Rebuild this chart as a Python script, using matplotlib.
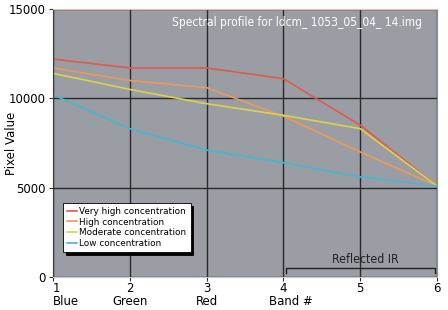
import matplotlib
matplotlib.use('Agg')
from matplotlib import pyplot as plt

bands = [1, 2, 3, 4, 5, 6]
band_labels = ['1\nBlue', '2\nGreen', '3\nRed', '4', '5', '6']
very_high = [12200, 11700, 11700, 11100, 8500, 5100]
high = [11700, 11000, 10600, 9000, 7000, 5100]
moderate = [11400, 10500, 9700, 9050, 8300, 5100]
low = [10200, 8300, 7100, 6400, 5600, 5100]
series_names = ['Very high concentration', 'High concentration',
                'Moderate concentration', 'Low concentration']
line_colors = ['#de5a4c', '#eb9a58', '#dcd24c', '#44b8d2']

txt = dict(family='DejaVu Sans', stretch='condensed', fontsize=9.4)

fig = plt.figure(figsize=(4.48, 3.10), dpi=100)
ax = fig.add_axes([53 / 448, 1 - 277 / 310, 384 / 448, 268 / 310])
ax.set_facecolor('#9b9da4')

for vals, name, c in zip([very_high, high, moderate, low], series_names, line_colors):
    ax.plot(bands, vals, color=c, linewidth=1.2, label=name)

ax.set_xlim(1, 6)
ax.set_ylim(0, 15000)
ax.set_yticks([0, 5000, 10000, 15000])
ax.set_xticks(bands)
ax.set_xticklabels(band_labels, linespacing=1.05, **txt)
ax.set_yticklabels(['0', '5000', '10000', '15000'], **txt)
first = ax.get_xticklabels()[0]
first.set_ha('left')
first.set_multialignment('left')
ax.tick_params(axis='both', length=3, width=0.8, color='#333333')
ax.tick_params(axis='x', pad=0.5)
ax.tick_params(axis='y', pad=2.5)
ax.grid(True, color='#2a2a2a', linewidth=1.0)
ax.set_axisbelow(True)

ax.spines['top'].set_color('#f2b9a4')
ax.spines['left'].set_color('#3a3a3a')
ax.spines['right'].set_color('#8c8e94')
ax.spines['bottom'].set_color('#c8c8cc')

ax.set_ylabel('Pixel Value', **txt)
ax.yaxis.set_label_coords(-0.092, 0.5)
ax.text(0.962, 0.948, 'Spectral profile for ldcm_ 1053_05_04_ 14.img',
        transform=ax.transAxes, ha='right', va='center', color='white',
        family='DejaVu Sans', stretch='condensed', fontsize=8.6)
ax.text(4.1, -0.09, 'Band #', transform=ax.get_xaxis_transform(),
        ha='center', va='center', **txt)

# Reflected IR bracket
ax.plot([4.03, 4.03, 5.97, 5.97], [200, 500, 500, 200], color='#222222', linewidth=1.0)
ax.text(5.07, 800, 'Reflected IR', ha='center', va='baseline',
        color='#222222', family='DejaVu Sans', stretch='condensed', fontsize=8.8)

leg = ax.legend(loc='lower left', bbox_to_anchor=(0.026, 0.093), borderaxespad=0,
                prop=dict(family='DejaVu Sans', size=6.4), frameon=True,
                fancybox=False, handlelength=1.1, handletextpad=0.3,
                borderpad=0.45, labelspacing=0.2,
                shadow={'color': 'black', 'alpha': 1})
leg.get_frame().set_edgecolor('black')
leg.get_frame().set_linewidth(0.6)
leg.get_frame().set_facecolor('white')

fig.savefig('out.png', dpi=100)
